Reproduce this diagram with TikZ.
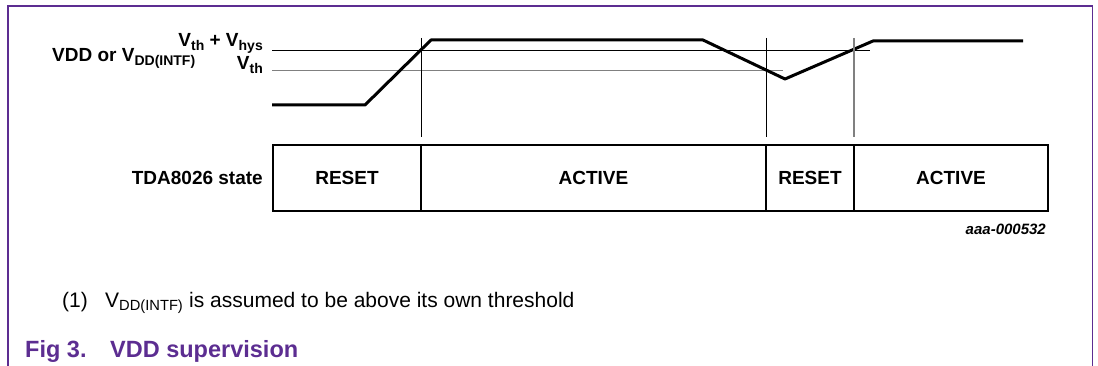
\documentclass[tikz,border=0pt]{standalone}
\usepackage{fontspec}
\setmainfont{Liberation Sans}
\usetikzlibrary{positioning}
\definecolor{nxppurple}{HTML}{5C2D91}
\newcommand{\lowtext}[1]{\raisebox{-0.3ex}{\fontsize{14}{14}\selectfont #1}}
\tikzstyle{statebox} = [rectangle, draw=black, line width=2pt, minimum height=66pt, outer sep=0pt, inner sep=0pt, font=\bfseries\fontsize{19}{19}\selectfont]
\tikzstyle{lbl} = [inner sep=0pt, font=\bfseries\fontsize{19}{19}\selectfont]
\tikzstyle{signal} = [line width=3pt, line join=round]
\tikzstyle{hysline} = [line width=1pt, black]
\tikzstyle{vthline} = [line width=1.6pt, black!50]
\tikzstyle{frameline} = [line width=1.5pt, nxppurple]
\tikzstyle{caption} = [inner sep=0pt, text=nxppurple, font=\bfseries\fontsize{23.5}{23.5}\selectfont]
\tikzstyle{note} = [inner sep=0pt, font=\fontsize{21}{21}\selectfont]

\begin{document}
\begin{tikzpicture}[x=1pt, y=-1pt]
		\useasboundingbox (0,0) rectangle (1098,366);
		\draw [frameline] (8,366) -- (8,6) -- (1092.5,6) -- (1092.5,366);
		% Levels
		\draw [hysline] (272,50.5) -- (870,50.5);
		\draw [vthline] (272,70.5) -- (783,70.5);
		\node (Vhys) [lbl, anchor=base east] at (263,47) {V\lowtext{th} + V\lowtext{hys}};
		\node (VDD) [lbl, anchor=base west] at (52,62) {VDD or V\lowtext{DD(INTF)}};
		\node (Vth) [lbl, anchor=base east] at (263,70) {V\lowtext{th}};
		% Signal
		\draw [signal] (272,105) -- (365,105) -- (431,40) -- (703,40) -- (785,79) -- (873,41) -- (1023,41);
		\foreach \x/\c/\w in {421/black/1, 766/black/1, 854/black!50/1.8}
			\draw [line width=\w pt, \c] (\x,38) -- (\x,137);
		% Nodes
		\node (R1) [statebox, minimum width=148pt] at (347,178) {RESET};
		\node (A1) [statebox, minimum width=345pt, right=0pt of R1] {ACTIVE};
		\node (R2) [statebox, minimum width=88pt, right=0pt of A1] {RESET};
		\node (A2) [statebox, minimum width=194pt, right=0pt of R2] {ACTIVE};
		\node (state) [lbl, left=10pt of R1] {TDA8026 state};
		\node (code) [anchor=base east, inner sep=0pt, font=\bfseries\itshape\fontsize{15}{15}\selectfont] at (1046,235) {aaa-000532};
		% Notes
		\node (n1) [note, anchor=base west] at (62,307) {(1)};
		\node (n1text) [note, anchor=base west] at (105,307) {V\textsubscript{DD(INTF)} is assumed to be above its own threshold};
		\node (fig) [caption, anchor=base west] at (25,357) {Fig 3.};
		\node (title) [caption, anchor=base west] at (110,357) {VDD supervision};
	\end{tikzpicture}
\end{document}
